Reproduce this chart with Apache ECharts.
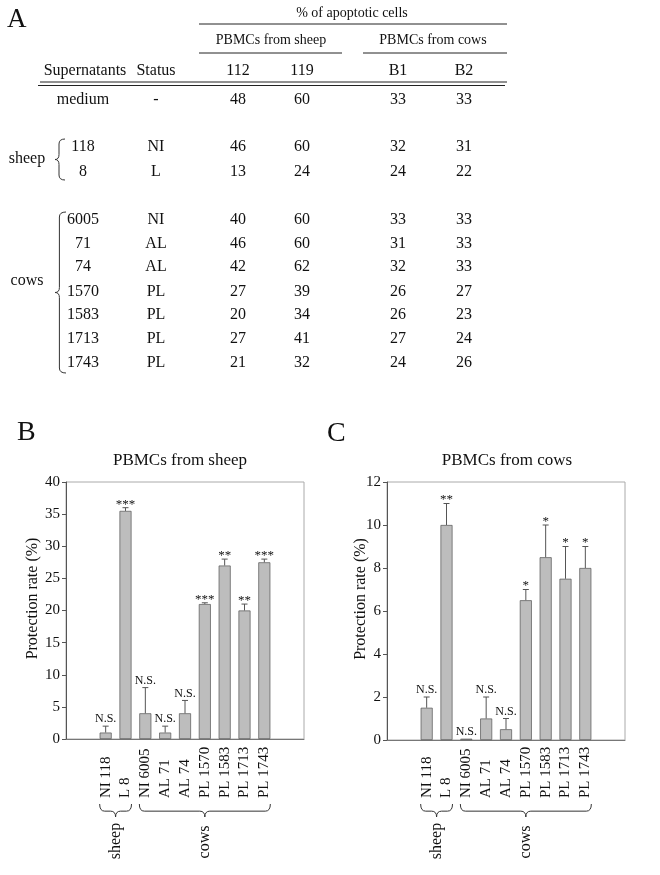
<!DOCTYPE html>
<html><head><meta charset="utf-8">
<script src="https://cdn.jsdelivr.net/npm/echarts@6/dist/echarts.min.js"></script>
<style>html,body{margin:0;padding:0;background:#fff}#c{width:660px;height:875px}</style>
</head><body><div id="c"></div>
<script>
// ---- Table A data ----
const headerCols = ['Supernatants', 'Status', '112', '119', 'B1', 'B2'];
const supernatants = ['medium', '118', '8', '6005', '71', '74', '1570', '1583', '1713', '1743'];
const statusCol = ['-', 'NI', 'L', 'NI', 'AL', 'AL', 'PL', 'PL', 'PL', 'PL'];
const sheep112 = [48, 46, 13, 40, 46, 42, 27, 20, 27, 21];
const sheep119 = [60, 60, 24, 60, 60, 62, 39, 34, 41, 32];
const cowB1 = [33, 32, 24, 33, 31, 32, 26, 26, 27, 24];
const cowB2 = [33, 31, 22, 33, 33, 33, 27, 23, 24, 26];

// ---- Bar charts data ----
const categories = ['NI 118', 'L 8', 'NI 6005', 'AL 71', 'AL 74', 'PL 1570', 'PL 1583', 'PL 1713', 'PL 1743'];
const sheepRate = [1, 35.5, 4, 1, 4, 21, 27, 20, 27.5];
const sheepErrTop = [2, 36, 8, 2, 6, 21.2, 28, 21, 28];
const sheepSig = ['N.S.', '***', 'N.S.', 'N.S.', 'N.S.', '***', '**', '**', '***'];
const cowRate = [1.5, 10, 0.06, 1, 0.5, 6.5, 8.5, 7.5, 8];
const cowErrTop = [2, 11, null, 2, 1, 7, 10, 9, 9];
const cowSig = ['N.S.', '**', 'N.S.', 'N.S.', 'N.S.', '*', '*', '*', '*'];
const sheepTicks = {min: 0, max: 40, interval: 5};
const cowTicks = {min: 0, max: 12, interval: 2};

const FONT = '"Liberation Serif", "Times New Roman", serif';
const INK = '#111';
const PAD = 2;
const paddedCats = [' ', '  ', ...categories, '   ', '    '];

const chart = echarts.init(document.getElementById('c'), null, {renderer: 'canvas'});

function errRender(errArr, sigArr) {
  return function (params, api) {
    const i = params.dataIndex;
    const x = api.value(0), v = api.value(1);
    const e = errArr[i];
    const base = api.coord([x, v]);
    const children = [];
    let topY = base[1];
    if (e !== null && e !== undefined) {
      const t = api.coord([x, e]);
      topY = t[1];
      children.push({type: 'line', shape: {x1: base[0], y1: base[1], x2: base[0], y2: t[1]}, style: {stroke: '#555', lineWidth: 1}});
      children.push({type: 'line', shape: {x1: base[0] - 3, y1: t[1], x2: base[0] + 3, y2: t[1]}, style: {stroke: '#555', lineWidth: 1}});
    }
    const s = sigArr[i];
    const star = s.charAt(0) === '*';
    children.push({type: 'text', style: {text: s, x: base[0], y: topY + (star ? 3 : -1), textAlign: 'center', textVerticalAlign: 'bottom', font: (star ? '13px ' : '12px ') + FONT, fill: INK}});
    return {type: 'group', children};
  };
}

function yAxis(grid, ticks, gap) {
  return {
    type: 'value', gridIndex: grid, min: ticks.min, max: ticks.max, interval: ticks.interval,
    name: 'Protection rate (%)', nameLocation: 'middle', nameGap: gap, nameMoveOverlap: false,
    nameTextStyle: {fontFamily: FONT, fontSize: 16, color: INK, padding: [0, 0, 0, 24]},
    axisLine: {show: true, lineStyle: {color: '#555'}},
    axisTick: {show: true, length: 4, lineStyle: {color: '#555'}},
    axisLabel: {fontFamily: FONT, fontSize: 15, color: INK, margin: 6},
    splitLine: {show: false}
  };
}
function xAxis(grid, margin) {
  return {
    type: 'category', gridIndex: grid, data: paddedCats, boundaryGap: false,
    axisLine: {show: true, lineStyle: {color: '#777'}},
    axisTick: {show: false},
    axisLabel: {interval: 0, rotate: 90, align: 'left', margin: margin, fontFamily: FONT, fontSize: 15, color: INK},
    splitLine: {show: false}
  };
}
const barStyle = {color: '#bdbdbd', borderColor: '#555', borderWidth: 0.7};

chart.setOption({
  animation: false,
  title: [
    {text: 'PBMCs from sheep', left: 175, top: 447, textAlign: 'center', textStyle: {fontFamily: FONT, fontSize: 17, fontWeight: 'normal', color: INK}},
    {text: 'PBMCs from cows', left: 502, top: 447, textAlign: 'center', textStyle: {fontFamily: FONT, fontSize: 17, fontWeight: 'normal', color: INK}}
  ],
  grid: [
    {left: 66, top: 482, width: 238, height: 257, show: true, borderColor: '#aaa', borderWidth: 1},
    {left: 387, top: 482, width: 238, height: 258, show: true, borderColor: '#aaa', borderWidth: 1}
  ],
  xAxis: [xAxis(0, 59), xAxis(1, 58)],
  yAxis: [yAxis(0, sheepTicks, 25), yAxis(1, cowTicks, 18)],
  series: [
    {type: 'bar', xAxisIndex: 0, yAxisIndex: 0, barWidth: 12, itemStyle: barStyle, data: sheepRate.map((v, i) => [i + PAD, v])},
    {type: 'custom', xAxisIndex: 0, yAxisIndex: 0, z: 5, renderItem: errRender(sheepErrTop, sheepSig), data: sheepRate.map((v, i) => [i + PAD, v])},
    {type: 'bar', xAxisIndex: 1, yAxisIndex: 1, barWidth: 12, itemStyle: barStyle, data: cowRate.map((v, i) => [i + PAD, v])},
    {type: 'custom', xAxisIndex: 1, yAxisIndex: 1, z: 5, renderItem: errRender(cowErrTop, cowSig), data: cowRate.map((v, i) => [i + PAD, v])}
  ]
});

// ---- graphics: table A, panel letters, braces ----
const g = [];
const STROKE = {stroke: '#333', lineWidth: 1, fill: null};
function txt(s, x, y, size, align) {
  g.push({type: 'text', x: x, y: y, style: {text: s, textAlign: align || 'center', textVerticalAlign: 'middle', font: size + 'px ' + FONT, fill: INK}});
}
function seg(x1, y1, x2, y2, color) {
  g.push({type: 'line', shape: {x1: x1, y1: y1, x2: x2, y2: y2}, style: {stroke: color || '#333', lineWidth: 1}});
}
function hline(x1, x2, y) { seg(x1, y, x2, y, '#222'); }
function quad(x1, y1, cx, cy, x2, y2) {
  g.push({type: 'bezierCurve', shape: {x1: x1, y1: y1, cpx1: cx, cpy1: cy, x2: x2, y2: y2}, style: Object.assign({}, STROKE)});
}
// horizontal brace pointing down
function hBrace(x1, x2, y0, d) {
  const ym = y0 + d * 0.55, xm = (x1 + x2) / 2, r = 5, yt = y0 + d;
  quad(x1, y0, x1, ym, x1 + r, ym);
  seg(x1 + r, ym, xm - r, ym);
  quad(xm - r, ym, xm, ym, xm, yt);
  quad(xm, yt, xm, ym, xm + r, ym);
  seg(xm + r, ym, x2 - r, ym);
  quad(x2 - r, ym, x2, ym, x2, y0);
}
// vertical brace pointing left
function vBrace(x0, y1, y2, d) {
  const xm = x0 - d * 0.6, xt = x0 - d, yc = (y1 + y2) / 2, r = 5;
  quad(x0, y1, xm, y1, xm, y1 + r);
  seg(xm, y1 + r, xm, yc - r);
  quad(xm, yc - r, xm, yc, xt, yc);
  quad(xt, yc, xm, yc, xm, yc + r);
  seg(xm, yc + r, xm, y2 - r);
  quad(xm, y2 - r, xm, y2, x0, y2);
}
function vtxt(s, x, y, size) {
  g.push({type: 'text', x: x, y: y, rotation: Math.PI / 2, style: {text: s, textAlign: 'center', textVerticalAlign: 'middle', font: size + 'px ' + FONT, fill: INK}});
}

// panel letters
txt('A', 7, 20, 27, 'left');
txt('B', 17, 433, 28, 'left');
txt('C', 327, 434, 28, 'left');

// table headers
const colX = [85, 156, 238, 302, 398, 464];
txt('% of apoptotic cells', 352, 13, 14);
hline(199, 507, 24);
txt('PBMCs from sheep', 271, 40, 14);
txt('PBMCs from cows', 433, 40, 14);
hline(199, 342, 53);
hline(363, 507, 53);
headerCols.forEach((h, j) => txt(h, colX[j], 71, 16));
hline(40, 507, 82);
hline(38, 505, 85.5);
const rowY = [100, 147, 172, 220, 243.5, 267, 291.5, 315, 338.5, 363];
const cols = [supernatants, statusCol, sheep112, sheep119, cowB1, cowB2];
rowY.forEach((y, i) => {
  cols.forEach((col, j) => txt(String(col[i]), j === 0 ? 83 : colX[j], y, 16));
});
txt('sheep', 27, 159, 16);
txt('cows', 27, 281, 16);
vBrace(65, 139, 180, 10);
vBrace(66, 212, 373, 11);

// braces under charts
function groupBraces(xi) {
  const px = k => chart.convertToPixel({xAxisIndex: xi}, k + PAD);
  const y0 = 804, d = 13, half = 6;
  const s1 = px(0) - half, s2 = px(1) + half;
  const c1 = px(2) - half, c2 = px(8) + half;
  hBrace(s1, s2, y0, d);
  hBrace(c1, c2, y0, d);
  vtxt('sheep', (s1 + s2) / 2, 841, 16);
  vtxt('cows', (c1 + c2) / 2, 842, 16);
}
groupBraces(0);
groupBraces(1);

chart.setOption({graphic: g});
</script>
</body></html>
